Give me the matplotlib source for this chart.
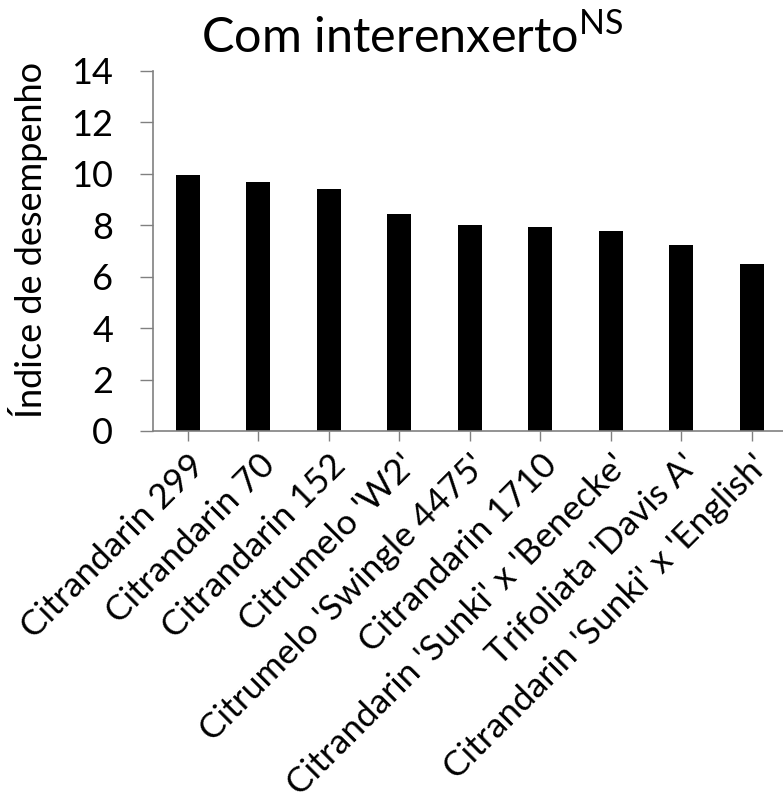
import matplotlib
matplotlib.use("Agg")
import matplotlib.pyplot as plt

categories = ["Citrandarin 299", "Citrandarin 70", "Citrandarin 152", "Citrumelo 'W2'",
              "Citrumelo 'Swingle 4475'", "Citrandarin 1710", "Citrandarin 'Sunki' x 'Benecke'",
              "Trifoliata 'Davis A'", "Citrandarin 'Sunki' x 'English'"]
values = [9.96, 9.67, 9.40, 8.44, 8.02, 7.92, 7.77, 7.23, 6.50]
yticks = [0, 2, 4, 6, 8, 10, 12, 14]

FONT = "Lato"
plt.rcParams['font.family'] = [FONT, 'DejaVu Sans']
plt.rcParams['mathtext.fontset'] = 'custom'
plt.rcParams['mathtext.rm'] = FONT

fig = plt.figure(figsize=(7.83, 8.02), dpi=100)
ax = fig.add_axes([152.7/783, 1-431/802, 634.5/783, 360/802])
x = list(range(len(categories)))
ax.bar(x, values, width=0.34, color='black')
ax.set_xlim(-0.5, 8.5)
ax.set_ylim(0, 14)
ax.set_yticks(yticks)
ax.set_xticks(x)
ax.set_xticklabels(categories, rotation=45, ha='right', rotation_mode='anchor', fontsize=25.5)
ax.tick_params(axis='y', labelsize=26, length=9.5, width=1, color='#808080', pad=19)
ax.tick_params(axis='x', length=7, width=1, color='#808080', pad=6)
for s in ['top', 'right']:
    ax.spines[s].set_visible(False)
for s in ['left', 'bottom']:
    ax.spines[s].set_color('#808080')
    ax.spines[s].set_linewidth(1.2)
ax.set_ylabel("Índice de desempenho", fontsize=26)
ax.yaxis.set_label_coords((48-152.7)/634.5, 0.53)
fig.text(412/783, 1-37/802, r"Com interenxerto$^{\mathrm{NS}}$", ha='center', va='center', fontsize=35)
fig.savefig("out.png", dpi=100)
